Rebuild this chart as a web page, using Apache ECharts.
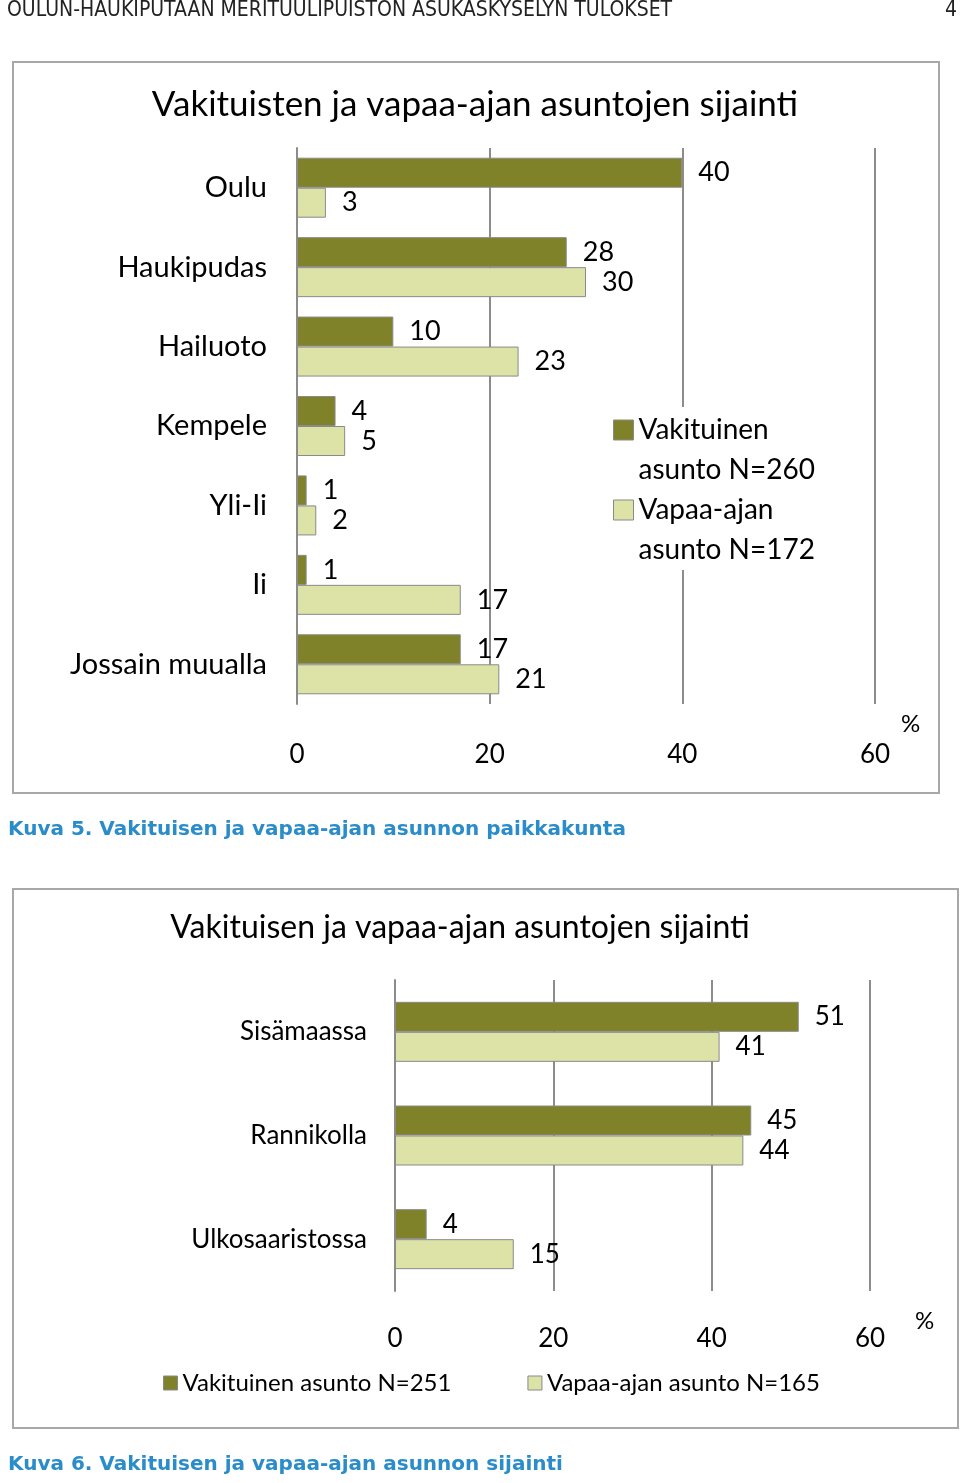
<!DOCTYPE html>
<html>
<head>
<meta charset="utf-8">
<script src="https://cdn.jsdelivr.net/npm/echarts@6/dist/echarts.min.js"></script>
<style>
html,body{margin:0;padding:0;background:#fff;}
#c{width:960px;height:1483px;}
</style>
</head>
<body>
<div id="c"></div>
<script>
// ---- Data ----
const headerText = 'OULUN-HAUKIPUTAAN MERITUULIPUISTON ASUKASKYSELYN TULOKSET';
const pageNo = '4';
const title1 = 'Vakituisten ja vapaa-ajan asuntojen sijainti';
const caption1 = 'Kuva 5. Vakituisen ja vapaa-ajan asunnon paikkakunta';
const cats1 = ['Oulu', 'Haukipudas', 'Hailuoto', 'Kempele', 'Yli-Ii', 'Ii', 'Jossain muualla'];
const perm1 = [40, 28, 10, 4, 1, 1, 17];
const leisure1 = [3, 30, 23, 5, 2, 17, 21];
const names1 = ['Vakituinen asunto N=260', 'Vapaa-ajan asunto N=172'];

const title2 = 'Vakituisen ja vapaa-ajan asuntojen sijainti';
const caption2 = 'Kuva 6. Vakituisen ja vapaa-ajan asunnon sijainti';
const cats2 = ['Sisämaassa', 'Rannikolla', 'Ulkosaaristossa'];
const perm2 = [51, 45, 4];
const leisure2 = [41, 44, 15];
const names2 = ['Vakituinen asunto N=251', 'Vapaa-ajan asunto N=165'];

const axisMin = 0, axisMax = 60, axisStep = 20;
const unitLabel = '%';

// ---- Styles ----
const DARK = '#7f8228';
const LIGHT = '#dde2a7';
const GRID = '#8c8c8c';
const FONT = 'Lato';

const chart = echarts.init(document.getElementById('c'), null, {renderer: 'canvas'});

function xAxisCfg(gi, margin, nameGap, namePadTop) {
  return {
    type: 'value', gridIndex: gi, min: axisMin, max: axisMax, interval: axisStep,
    axisLine: {show: false}, axisTick: {show: false},
    splitLine: {show: true, lineStyle: {color: GRID, width: 2}},
    axisLabel: {color: '#000', fontSize: 26, fontFamily: FONT, margin: margin},
    name: unitLabel, nameLocation: 'end', nameGap: nameGap,
    nameTextStyle: {color: '#000', fontSize: 24, fontFamily: FONT, verticalAlign: 'top', padding: [namePadTop, 0, 0, 0]}
  };
}
function yAxisCfg(gi, cats, margin, fs) {
  return {
    type: 'category', gridIndex: gi, data: cats, inverse: true,
    axisLine: {show: true, lineStyle: {color: GRID, width: 2}},
    axisTick: {show: false},
    axisLabel: {color: '#000', fontSize: fs, fontFamily: FONT, margin: margin}
  };
}
function barSeries(name, data, color, xi, fs) {
  return {
    type: 'bar', name: name, data: data, xAxisIndex: xi, yAxisIndex: xi,
    barWidth: 30, barGap: '0%',
    itemStyle: {color: color, borderColor: '#8a8a8a', borderWidth: 1},
    label: {show: true, position: 'right', distance: 16, color: '#000', fontSize: fs, fontFamily: FONT},
    emphasis: {disabled: true}
  };
}

const option = {
  animation: false,
  backgroundColor: '#fff',
  grid: [
    {left: 297, top: 148, width: 578, height: 556},
    {left: 395, top: 980, width: 475, height: 311}
  ],
  xAxis: [xAxisCfg(0, 38, 26, 8), xAxisCfg(1, 35, 45, 18)],
  yAxis: [yAxisCfg(0, cats1, 30, 29), yAxisCfg(1, cats2, 28, 26)],
  legend: [
    {
      data: names1, orient: 'vertical', left: 605, top: 407, itemGap: -40,
      icon: 'rect',
      itemWidth: 20, itemHeight: 20, padding: [-37, 12, 0, 8],
      backgroundColor: '#fff', selectedMode: false,
      itemStyle: {borderColor: '#8a8a8a', borderWidth: 1},
      formatter: function (n) { return '\n' + n.replace(' asunto', '\nasunto'); },
      textStyle: {color: '#000', fontSize: 28, fontFamily: FONT, lineHeight: 40}
    },
    {
      data: names2, orient: 'horizontal', left: 163, top: 1369, itemGap: 76,
      icon: 'rect',
      itemWidth: 14, itemHeight: 14, padding: 0, selectedMode: false,
      itemStyle: {borderColor: '#8a8a8a', borderWidth: 1},
      textStyle: {color: '#000', fontSize: 24, fontFamily: FONT, lineHeight: 28}
    }
  ],
  series: [
    barSeries(names1[0], perm1, DARK, 0, 27),
    barSeries(names1[1], leisure1, LIGHT, 0, 27),
    barSeries(names2[0], perm2, DARK, 1, 26),
    barSeries(names2[1], leisure2, LIGHT, 1, 26)
  ],
  graphic: [
    {type: 'rect', z: -10, shape: {x: 13, y: 62, width: 926, height: 731}, style: {fill: 'none', stroke: '#a8a8a8', lineWidth: 2}},
    {type: 'rect', z: -10, shape: {x: 13, y: 889, width: 945, height: 539}, style: {fill: 'none', stroke: '#a8a8a8', lineWidth: 2}},
    {type: 'text', x: 7, y: 11, style: {text: headerText, font: '21px "DejaVu Sans Condensed"', fill: '#222', verticalAlign: 'middle', align: 'left'}},
    {type: 'text', x: 957, y: 11, style: {text: pageNo, font: '21px "DejaVu Sans Condensed"', fill: '#222', verticalAlign: 'middle', align: 'right'}},
    {type: 'text', x: 475, y: 105, style: {text: title1, font: '35px ' + FONT, fill: '#000', verticalAlign: 'middle', align: 'center'}},
    {type: 'text', x: 460, y: 928, style: {text: title2, font: '32px ' + FONT, fill: '#000', verticalAlign: 'middle', align: 'center'}},
    {type: 'text', x: 8, y: 830, style: {text: caption1, font: 'bold 20px "DejaVu Sans"', fill: '#2a8cc8', verticalAlign: 'middle', align: 'left'}},
    {type: 'text', x: 8, y: 1465, style: {text: caption2, font: 'bold 20px "DejaVu Sans"', fill: '#2a8cc8', verticalAlign: 'middle', align: 'left'}}
  ]
};
chart.setOption(option);
</script>
</body>
</html>
